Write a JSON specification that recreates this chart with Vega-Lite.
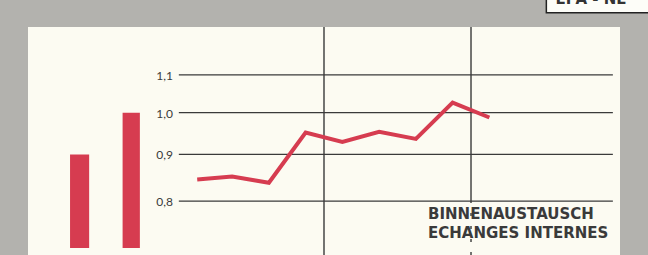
{
  "$schema": "https://vega.github.io/schema/vega-lite/v6.json",
  "autosize": {"type": "none"},
  "width": 592,
  "height": 228,
  "padding": {"left": 28, "top": 27, "right": 28, "bottom": 0},
  "background": "#b3b2ae",
  "config": {"view": {"stroke": null, "fill": "#fcfbf2"}},
  "datasets": {
    "series": [
      {"q": 0.55, "v": 0.845},
      {"q": 1.5, "v": 0.851},
      {"q": 2.5, "v": 0.838},
      {"q": 3.5, "v": 0.951},
      {"q": 4.5, "v": 0.929},
      {"q": 5.5, "v": 0.953},
      {"q": 6.5, "v": 0.936},
      {"q": 7.5, "v": 1.026},
      {"q": 8.5, "v": 0.988}
    ],
    "grid": [
      {"v": 0.8, "label": "0,8"},
      {"v": 0.9, "label": "0,9"},
      {"v": 1.0, "label": "1,0"},
      {"v": 1.1, "label": "1,1"}
    ],
    "bars": [
      {"a": -2.91, "b": -2.39, "v": 0.9},
      {"a": -1.48, "b": -1.01, "v": 1.0}
    ]
  },
  "encoding": {},
  "layer": [
    {
      "data": {"name": "grid"},
      "mark": {"type": "rule", "color": "#3a3a3a", "strokeWidth": 1.3},
      "encoding": {
        "x": {"datum": 0.05, "type": "quantitative", "scale": {"domain": [-4.054, 12.054], "nice": false, "zero": false}, "axis": null},
        "x2": {"datum": 11.86},
        "y": {"field": "v", "type": "quantitative", "scale": {"type": "log", "domain": [0.6982, 1.2416], "nice": false, "zero": false}, "axis": null}
      }
    },
    {
      "data": {"name": "grid"},
      "mark": {"type": "text", "align": "right", "baseline": "middle", "font": "Lato", "fontSize": 12, "color": "#3a3a3a", "dy": 1},
      "encoding": {
        "x": {"datum": -0.11, "type": "quantitative"},
        "y": {"field": "v", "type": "quantitative"},
        "text": {"field": "label"}
      }
    },
    {
      "data": {"values": [{"t": 4, "lo": 0.6982, "hi": 1.2416}, {"t": 8, "lo": 0.8, "hi": 1.2416}]},
      "mark": {"type": "rule", "color": "#3a3a3a", "strokeWidth": 1.4},
      "encoding": {
        "x": {"field": "t", "type": "quantitative"},
        "y": {"field": "lo", "type": "quantitative"},
        "y2": {"field": "hi"}
      }
    },
    {
      "data": {"values": [{"t": 8, "lo": 0.6982, "hi": 0.8}]},
      "mark": {"type": "rule", "color": "#3a3a3a", "strokeWidth": 1.4, "strokeDash": [3, 10]},
      "encoding": {
        "x": {"field": "t", "type": "quantitative"},
        "y": {"field": "lo", "type": "quantitative"},
        "y2": {"field": "hi"}
      }
    },
    {
      "data": {"name": "bars"},
      "mark": {"type": "rect", "color": "#d63c50"},
      "encoding": {
        "x": {"field": "a", "type": "quantitative"},
        "x2": {"field": "b"},
        "y": {"field": "v", "type": "quantitative"},
        "y2": {"datum": 0.7106}
      }
    },
    {
      "data": {"name": "series"},
      "mark": {"type": "line", "color": "#d63c50", "strokeWidth": 4, "strokeJoin": "miter"},
      "encoding": {
        "x": {"field": "q", "type": "quantitative"},
        "y": {"field": "v", "type": "quantitative"}
      }
    },
    {
      "data": {"values": [{"t": "BINNENAUSTAUSCH", "v": 0.7646}, {"t": "ECHANGES INTERNES", "v": 0.7288}]},
      "mark": {"type": "text", "align": "left", "baseline": "alphabetic", "font": "DejaVu Sans", "fontWeight": "bold", "fontSize": 15, "color": "#3a3a3a"},
      "encoding": {
        "x": {"datum": 6.83, "type": "quantitative"},
        "y": {"field": "v", "type": "quantitative"},
        "text": {"field": "t"}
      }
    },
    {
      "data": {"values": [{"a": 10.05, "b": 13.2, "lo": 1.2873, "hi": 1.45}]},
      "mark": {"type": "rect", "fill": "#fdfdf8", "stroke": "#222222", "strokeWidth": 1.5, "clip": false},
      "encoding": {
        "x": {"field": "a", "type": "quantitative"},
        "x2": {"field": "b"},
        "y": {"field": "lo", "type": "quantitative"},
        "y2": {"field": "hi"}
      }
    },
    {
      "data": {"values": [{"t": "EPA - NE", "v": 1.3159}]},
      "mark": {"type": "text", "align": "left", "baseline": "alphabetic", "font": "DejaVu Sans", "fontWeight": "bold", "fontSize": 15, "color": "#333333", "clip": false},
      "encoding": {
        "x": {"datum": 10.3, "type": "quantitative"},
        "y": {"field": "v", "type": "quantitative"},
        "text": {"field": "t"}
      }
    }
  ]
}
